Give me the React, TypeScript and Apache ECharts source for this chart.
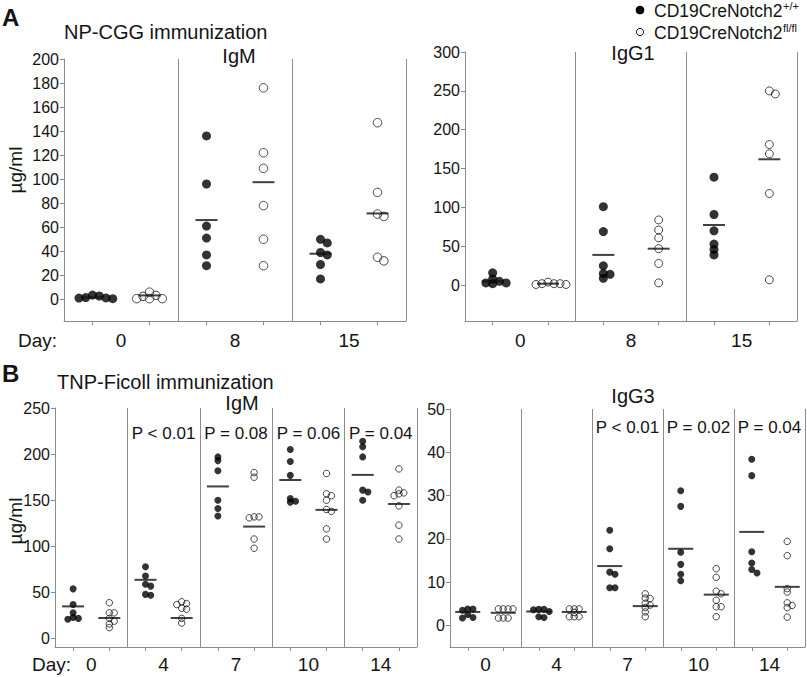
import React, { useEffect, useRef } from 'react';
import * as echarts from 'echarts';

// ---------- data ----------
const daysA = ['0', '8', '15'];
const daysB = ['0', '4', '7', '10', '14'];

const ticksNpIgM = [0, 20, 40, 60, 80, 100, 120, 140, 160, 180, 200];
const ticksNpIgG1 = [0, 50, 100, 150, 200, 250, 300];
const ticksTnpIgM = [0, 50, 100, 150, 200, 250];
const ticksTnpIgG3 = [0, 10, 20, 30, 40, 50];

const npIgMWT = [[2.8, 1.1, 3.6, 1.5, 0.6, 1.2], [136, 96, 61, 51, 37, 28], [50, 47, 39, 37, 29, 17]];
const npIgMFl = [[2.5, 0.6, 6, 0.6, 0.6, 3.3], [176, 122, 109, 78, 50, 28], [147, 89, 71, 69, 35, 32]];
const npIgMWTMean = [1.6, 66, 38];
const npIgMFlMean = [3.3, 97.5, 71.5];

const npIgG1WT = [[16, 8, 3, 2, 3, 5], [101, 69, 25, 15, 14, 9], [139, 91, 70, 53, 46, 39]];
const npIgG1Fl = [[2, 1, 2, 4, 1, 2], [84, 71, 61, 47, 28, 3], [250, 246, 181, 169, 118, 7]];
const npIgG1WTMean = [5, 39, 77.5];
const npIgG1FlMean = [2, 47, 162];

const tnpIgMWT = [[54, 37, 28, 23, 22, 21], [78, 68, 59, 57, 48, 47], [197, 193, 182, 150, 141, 133], [205, 192, 177, 152, 148, 149], [214, 208, 197, 161, 159, 150]];
const tnpIgMFl = [[39, 28, 28, 22, 19, 16, 12], [40, 38, 37, 33, 32, 22, 17], [180, 175, 132, 131, 132, 108, 98], [179, 157, 155, 150, 140, 138, 119, 108], [184, 161, 158, 157, 155, 144, 123, 108]];
const tnpIgMWTMean = [35, 63.8, 165, 172, 177.5];
const tnpIgMFlMean = [22.4, 22.4, 121.5, 139.6, 146];

const tnpIgG3WT = [[3.8, 3.8, 3.5, 2.5, 1.7, 1.8], [3.6, 3.7, 3.7, 3.2, 2, 1.8], [22, 17.7, 12.3, 11.8, 8.7, 8.7], [31.1, 27.5, 16.9, 14.1, 11.8, 10.3], [38.4, 34.6, 17, 14.4, 12.9, 12.1]];
const tnpIgG3Fl = [[3.8, 3.8, 3.8, 3.8, 1.7, 1.7, 1.7], [3.8, 3.8, 3.8, 2, 2, 2, 3], [7.3, 6.3, 6.2, 5.1, 4.7, 4.1, 3.1, 2], [13.1, 11.1, 7.9, 7.3, 5.8, 4.3, 4.3, 2], [19.4, 16.1, 8.5, 7.7, 5.2, 4.6, 4.1, 1.9]];
const tnpIgG3WTMean = [3.1, 3.2, 13.7, 17.7, 21.6];
const tnpIgG3FlMean = [2.9, 3.1, 4.45, 7.1, 8.9];

const pTnpIgM = ['', 'P < 0.01', 'P = 0.08', 'P = 0.06', 'P = 0.04'];
const pTnpIgG3 = ['', '', 'P < 0.01', 'P = 0.02', 'P = 0.04'];

// ---------- layout ----------
const FONT = '"Liberation Sans", Arial, Helvetica, sans-serif';
const GREY = '#8c8c8c';
const TEXT = '#141414';

const panels = [
  { left: 64, top: 59, width: 342, height: 262, min: -18, max: 200, ticks: ticksNpIgM, days: daysA, wt: npIgMWT, fl: npIgMFl, wtMean: npIgMWTMean, flMean: npIgMFlMean, size: 9, openSize: 8.5, meanW: 22, xMargin: 10, pv: null as string[] | null, pvY: 0 },
  { left: 465, top: 52, width: 332, height: 269, min: -46, max: 300, ticks: ticksNpIgG1, days: daysA, wt: npIgG1WT, fl: npIgG1Fl, wtMean: npIgG1WTMean, flMean: npIgG1FlMean, size: 9, openSize: 8, meanW: 22, xMargin: 10, pv: null as string[] | null, pvY: 0 },
  { left: 55, top: 408, width: 362, height: 239, min: -9, max: 250, ticks: ticksTnpIgM, days: daysB, wt: tnpIgMWT, fl: tnpIgMFl, wtMean: tnpIgMWTMean, flMean: tnpIgMFlMean, size: 7, openSize: 6.5, meanW: 22, xMargin: 8, pv: pTnpIgM, pvY: 433 },
  { left: 450, top: 409, width: 355, height: 238, min: -5, max: 50, ticks: ticksTnpIgG3, days: daysB, wt: tnpIgG3WT, fl: tnpIgG3Fl, wtMean: tnpIgG3WTMean, flMean: tnpIgG3FlMean, size: 7, openSize: 6.5, meanW: 25, xMargin: 8, pv: pTnpIgG3, pvY: 427 },
];

function swarm(values: number[], center: number, pxX: number, pxY: number, size: number) {
  const sorted = [...values].sort((a, b) => b - a);
  const placed: { x: number; y: number }[] = [];
  const out: number[][] = [];
  const thr = size * 0.5;
  const step = size * 0.75;
  for (const v of sorted) {
    const y = v * pxY;
    let off = 0;
    for (let n = 0; n < 30; n++) {
      const cand = n === 0 ? 0 : (n % 2 === 1 ? 1 : -1) * Math.ceil(n / 2) * step;
      const ok = placed.every((p) => Math.hypot(p.x - cand, p.y - y) >= thr);
      if (ok) { off = cand; break; }
    }
    placed.push({ x: off, y });
    out.push([center + off / pxX, v]);
  }
  return out;
}

function buildOption() {
  const grid: any[] = [];
  const xAxis: any[] = [];
  const yAxis: any[] = [];
  const series: any[] = [];
  const graphic: any[] = [];

  panels.forEach((p, i) => {
    const n = p.days.length;
    const pxX = p.width / (2 * n);
    const pxY = p.height / (p.max - p.min);
    grid.push({ left: p.left, top: p.top, width: p.width, height: p.height, containLabel: false, outerBoundsMode: 'none' });
    const tickCenters: number[] = [];
    const dayCenters: number[] = [];
    const seps: number[] = [];
    for (let d = 0; d < n; d++) {
      tickCenters.push(2 * d + 0.5, 2 * d + 1.5);
      dayCenters.push(2 * d + 1);
      seps.push(2 * d + 2);
    }
    xAxis.push({
      gridIndex: i, type: 'value', min: 0, max: 2 * n,
      axisLine: { show: true, onZero: false, lineStyle: { color: GREY, width: 1 } },
      axisTick: { show: true, customValues: tickCenters, length: 4, lineStyle: { color: GREY } },
      axisLabel: {
        show: true, customValues: dayCenters, margin: p.xMargin,
        formatter: (v: number) => p.days[Math.round((v - 1) / 2)],
        fontSize: 19, color: TEXT, fontFamily: FONT,
      },
      splitLine: { show: false },
    });
    yAxis.push({
      gridIndex: i, type: 'value', min: p.min, max: p.max,
      axisLine: { show: true, lineStyle: { color: GREY, width: 1 } },
      axisTick: { show: true, customValues: p.ticks, length: 4, lineStyle: { color: GREY } },
      axisLabel: { show: true, customValues: p.ticks, margin: 5, fontSize: 16, color: TEXT, fontFamily: FONT },
      splitLine: { show: false },
    });

    const wtData: number[][] = [];
    const flData: number[][] = [];
    p.wt.forEach((vals, d) => wtData.push(...swarm(vals, 2 * d + 0.5, pxX, pxY, p.size)));
    p.fl.forEach((vals, d) => flData.push(...swarm(vals, 2 * d + 1.5, pxX, pxY, p.openSize)));

    series.push({
      type: 'scatter', name: 'CD19CreNotch2+/+', xAxisIndex: i, yAxisIndex: i,
      symbol: 'circle', symbolSize: p.size, itemStyle: { color: '#000' }, z: 2,
      data: wtData,
      markLine: {
        silent: true, symbol: 'none', label: { show: false },
        lineStyle: { color: GREY, type: 'solid', width: 1 },
        data: seps.map((x) => ({ xAxis: x })),
      },
    });
    series.push({
      type: 'scatter', name: 'CD19CreNotch2fl/fl', xAxisIndex: i, yAxisIndex: i,
      symbol: 'circle', symbolSize: p.openSize,
      itemStyle: { color: 'rgba(0,0,0,0)', borderColor: '#000', borderWidth: 0.9 }, z: 2,
      data: flData,
    });
    series.push({
      type: 'scatter', name: 'mean', xAxisIndex: i, yAxisIndex: i,
      symbol: 'rect', symbolSize: [p.meanW, 2], itemStyle: { color: '#111' }, z: 3,
      data: [
        ...p.wtMean.map((m, d) => [2 * d + 0.5, m]),
        ...p.flMean.map((m, d) => [2 * d + 1.5, m]),
      ],
    });

    if (p.pv) {
      p.pv.forEach((t, d) => {
        if (!t) return;
        graphic.push({
          type: 'text', x: p.left + (2 * d + 1) * pxX, y: p.pvY,
          style: { text: t, fill: TEXT, font: `17px ${FONT}`, textAlign: 'center', textVerticalAlign: 'middle' },
        });
      });
    }
  });

  const txt = (text: string, x: number, y: number, size: number, opts: any = {}) => ({
    type: 'text', x, y, rotation: opts.rotation || 0,
    style: {
      text, fill: TEXT, font: `${opts.bold ? 'bold ' : ''}${size}px ${FONT}`,
      textAlign: opts.align || 'left', textVerticalAlign: 'middle',
    },
  });

  graphic.push(
    txt('A', 2, 17, 24, { bold: true }),
    txt('NP-CGG immunization', 64, 32, 20),
    txt('IgM', 239, 56, 20, { align: 'center' }),
    txt('IgG1', 633, 53, 20, { align: 'center' }),
    txt('µg/ml', 15, 170, 19, { align: 'center', rotation: Math.PI / 2 }),
    txt('Day:', 18, 340, 19),
    txt('B', 2, 373, 24, { bold: true }),
    txt('TNP-Ficoll immunization', 57, 382, 20),
    txt('IgM', 242, 403, 20, { align: 'center' }),
    txt('IgG3', 633, 396, 20, { align: 'center' }),
    txt('µg/ml', 15, 521, 19, { align: 'center', rotation: Math.PI / 2 }),
    txt('Day:', 32, 664, 19),
    // legend
    { type: 'circle', shape: { cx: 640, cy: 10, r: 4.3 }, style: { fill: '#000' } },
    txt('CD19CreNotch2', 654, 11, 17.5),
    txt('+/+', 783, 6, 11),
    { type: 'circle', shape: { cx: 640, cy: 32, r: 3.6 }, style: { fill: 'none', stroke: '#000', lineWidth: 0.9 } },
    txt('CD19CreNotch2', 654, 33, 17.5),
    txt('fl/fl', 783, 28, 11),
  );

  return { animation: false, backgroundColor: '#fff', grid, xAxis, yAxis, series, graphic };
}

export default function App() {
  const ref = useRef<HTMLDivElement>(null);
  useEffect(() => {
    if (!ref.current) return;
    const chart = echarts.init(ref.current, null, { renderer: 'svg' });
    chart.setOption(buildOption() as any);
    return () => chart.dispose();
  }, []);
  return <div ref={ref} style={{ position: 'absolute', left: 0, top: 0, width: 807, height: 677 }} />;
}
